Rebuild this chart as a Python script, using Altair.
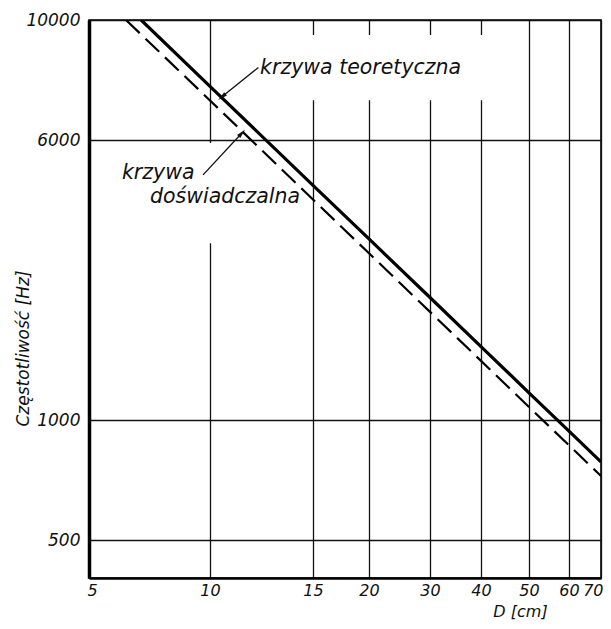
import altair as alt
import pandas as pd

# ---- axis ticks (as printed) ----
D_TICKS = [5, 10, 15, 20, 30, 40, 50, 60, 70]
F_TICKS = [500, 1000, 6000, 10000]

# ---- curves ----
teor_D = [6.74, 10, 15, 20, 30, 40, 50, 60, 70]
teor_f = [10000, 7540, 4490, 3185, 2190, 1600, 1190, 938, 785]

dosw_D = [6.18, 10, 15, 20, 30, 40, 50, 60, 70]
dosw_f = [10000, 7100, 4100, 2906, 1998, 1460, 1087, 864, 724]

# ---- annotations ----
label_text = ["krzywa teoretyczna", "krzywa", "doświadczalna"]
label_D = [12.18, 6.04, 7.09]
label_f = [8150, 4860, 4170]

arrow_D = [12.1, 9.61]
arrow_f = [8170, 4800]
arrow_D2 = [10.48, 11.34]
arrow_f2 = [7210, 6180]
arrow_angle = [230, 43]

# blank (unruled) areas of the printed grid behind the lettering
blank_D = [11.25, 5.80]
blank_D2 = [41.0, 14.25]
blank_f = [9380, 5890]
blank_f2 = [7110, 3100]

# ---- layout of the (hand-drawn, non-uniform) printed grid ----
X_GRID_POS = [0, 121, 224, 280, 341, 392, 440, 480, 512]
Y_DOMAIN = [400, 500, 1000, 6000, 10000]
Y_GRID_POS = [558, 520, 400, 120, 0]

FONT = "DejaVu Sans"
INK = "#111111"

x_scale = alt.Scale(type="log", domain=D_TICKS, range=X_GRID_POS, nice=False)
y_scale = alt.Scale(type="log", domain=Y_DOMAIN, range=Y_GRID_POS, nice=False)

x_axis = alt.Axis(
    values=D_TICKS, format="d", title="D [cm]", grid=True,
    gridColor=INK, gridWidth=1.3, domainColor="#000", domainWidth=2.5,
    ticks=False, labelFont=FONT, labelFontStyle="italic", labelFontSize=16,
    labelColor=INK, labelPadding=4, labelOverlap=False, labelFlush=True,
    labelFlushOffset=2,
    titleFont=FONT, titleFontStyle="italic", titleFontWeight="normal",
    titleFontSize=16, titleColor=INK, titleX=431, titleY=33,
    titleAlign="center", titleBaseline="middle",
)
y_axis = alt.Axis(
    values=F_TICKS, format="d", title="Częstotliwość [Hz]", grid=True,
    gridColor=INK, gridWidth=1.3, domainColor="#000", domainWidth=3.5,
    ticks=False, labelFont=FONT, labelFontStyle="italic", labelFontSize=17,
    labelColor=INK, labelPadding=9, labelOverlap=False, labelFlush=False,
    titleFont=FONT, titleFontStyle="italic", titleFontWeight="normal",
    titleFontSize=17, titleColor=INK, titleX=-66, titleY=328,
    titleAlign="center", titleBaseline="middle", titleAngle=270,
)

X = lambda f="D": alt.X(f"{f}:Q", scale=x_scale, axis=x_axis)
Y = lambda f="f": alt.Y(f"{f}:Q", scale=y_scale, axis=y_axis)

teor = pd.DataFrame({"D": teor_D, "f": teor_f})
dosw = pd.DataFrame({"D": dosw_D, "f": dosw_f})
labels = pd.DataFrame({"D": label_D, "f": label_f, "t": label_text})
arrows = pd.DataFrame({"D": arrow_D, "f": arrow_f, "D2": arrow_D2,
                       "f2": arrow_f2, "ang": arrow_angle})
blanks = pd.DataFrame({"D": blank_D, "f": blank_f, "D2": blank_D2, "f2": blank_f2})

blank = alt.Chart(blanks).mark_rect(color="white", opacity=1).encode(
    x=X(), y=Y(), x2="D2:Q", y2="f2:Q"
)

line_teor = alt.Chart(teor).mark_line(color="#000", strokeWidth=3.2, clip=True).encode(x=X(), y=Y())
line_dosw = alt.Chart(dosw).mark_line(color="#000", strokeWidth=2.2, strokeDash=[19, 8], clip=True).encode(x=X(), y=Y())

text = alt.Chart(labels).mark_text(
    font=FONT, fontStyle="italic", fontSize=20.5, align="left",
    baseline="middle", color=INK,
).encode(x=X(), y=Y(), text="t:N")

rules = alt.Chart(arrows).mark_rule(color=INK, strokeWidth=1.3).encode(
    x=X(), y=Y(), x2="D2:Q", y2="f2:Q"
)
heads = alt.Chart(arrows).mark_point(
    shape="M0,-1L0.45,1L-0.45,1Z", filled=True, color=INK, opacity=1, size=90,
).encode(x=X("D2"), y=Y("f2"), angle=alt.Angle("ang:Q", scale=None))

chart = alt.layer(blank, line_teor, line_dosw, rules, heads, text).properties(
    width=512, height=558,
    autosize=alt.AutoSizeParams(type="none"),
    padding={"left": 81, "top": 12, "right": 2, "bottom": 42},
    background="white",
).configure_view(stroke="#000", strokeWidth=1.6)

chart.save("out.html", embed_options={"renderer": "svg", "actions": False})
